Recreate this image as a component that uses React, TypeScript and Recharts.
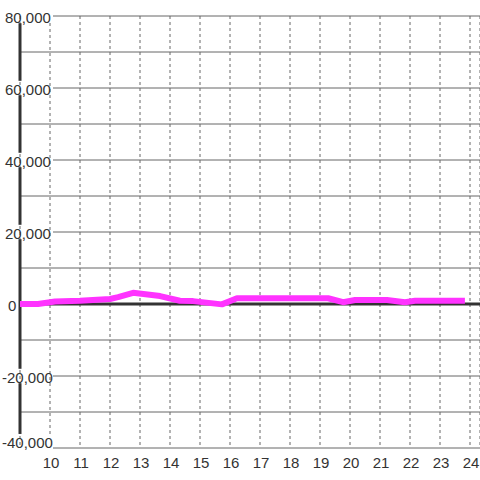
import {
  CartesianGrid,
  Line,
  LineChart,
  ReferenceLine,
  XAxis,
  YAxis,
} from "recharts";

const hours = [9, 9.6, 10.17, 11, 12, 12.27, 12.77, 13.67, 14.33, 14.77, 15.73, 16.23, 19.27, 19.77, 20.17, 21.23, 21.83, 22.17, 23.83];
const amounts = [0, 0, 700, 900, 1400, 1900, 3100, 2200, 900, 800, -100, 1600, 1600, 500, 1100, 1100, 500, 900, 900];
const xTicks = [10, 11, 12, 13, 14, 15, 16, 17, 18, 19, 20, 21, 22, 23, 24];
const yTicks = [-40000, -30000, -20000, -10000, 0, 10000, 20000, 30000, 40000, 50000, 60000, 70000, 80000];

// pieces of the thick y axis between the labels (the labels interrupt it)
const axisPieces: [number, number][] = [
  [-36100, -22000],
  [-18000, 18000],
  [22000, 38000],
  [42000, 58000],
  [62000, 78000],
];

const data = hours.map((t, i) => ({ t, v: amounts[i] }));

const FONT = '"Liberation Sans", Arial, sans-serif';
const numberFormatter = new Intl.NumberFormat("en-US");
const LABEL_END = 53;

function YTick(props: any) {
  const { y, payload } = props;
  const value = payload.value as number;
  if (value % 20000 !== 0) return <g />;
  const startX = value < 0 ? 2 : value === 0 ? 8 : 5;
  // bottom label is pushed up so it stays inside the plot
  const cy = value === -40000 ? y - 7 : y;
  return (
    <text
      x={startX}
      y={cy + 1}
      fontSize={15}
      fontFamily={FONT}
      fill="#333"
      textAnchor="start"
      dominantBaseline="central"
    >
      {numberFormatter.format(value)}
    </text>
  );
}

function XTick(props: any) {
  const { x, payload } = props;
  return (
    <text
      x={x + 1}
      y={462}
      fontSize={15}
      fontFamily={FONT}
      fill="#333"
      textAnchor="middle"
      dominantBaseline="central"
    >
      {payload.value}
    </text>
  );
}

// solid rows; the labelled rows start after their label
const renderHLine = (props: any) => {
  const { x1, y1, x2, y2, index } = props;
  const start = index % 2 === 0 ? LABEL_END : x1;
  return (
    <line key={`h-${index}`} x1={start} y1={y1} x2={x2} y2={y2} stroke="#666" strokeWidth={1} />
  );
};

// dashed columns; the first one is cut by the top and bottom labels
const renderVLine = (props: any) => {
  const { x1, y1, x2, y2, index } = props;
  const top = index === 0 ? y1 + 7 : y1;
  const bottom = index === 0 ? y2 - 14 : y2;
  return (
    <line
      key={`v-${index}`}
      x1={x1}
      y1={top}
      x2={x2}
      y2={bottom}
      stroke="#666"
      strokeWidth={1}
      strokeDasharray="3 3"
    />
  );
};

export default function App() {
  return (
    <div style={{ position: "absolute", left: 0, top: 0, background: "#fff" }}>
      <LineChart
        width={480}
        height={480}
        data={data}
        margin={{ top: 16, right: 0, bottom: 0, left: 0 }}
      >
        <CartesianGrid vertical={false} horizontal={renderHLine} />
        <CartesianGrid horizontal={false} vertical={renderVLine} />
        <XAxis
          dataKey="t"
          type="number"
          domain={[9, 24.3333]}
          ticks={xTicks}
          allowDataOverflow
          height={32}
          tickLine={false}
          axisLine={false}
          tick={<XTick />}
          interval={0}
        />
        <YAxis
          type="number"
          domain={[-40000, 80000]}
          ticks={yTicks}
          width={20}
          tickLine={false}
          axisLine={false}
          tick={<YTick />}
          interval={0}
        />
        {axisPieces.map(([a, b]) => (
          <ReferenceLine
            key={a}
            segment={[
              { x: 9, y: a },
              { x: 9, y: b },
            ]}
            stroke="#333"
            strokeWidth={3}
          />
        ))}
        <ReferenceLine y={0} stroke="#333" strokeWidth={3} />
        <Line
          type="linear"
          dataKey="v"
          stroke="#ff33ff"
          strokeWidth={6}
          strokeLinejoin="round"
          dot={false}
          activeDot={false}
          isAnimationActive={false}
        />
      </LineChart>
    </div>
  );
}
